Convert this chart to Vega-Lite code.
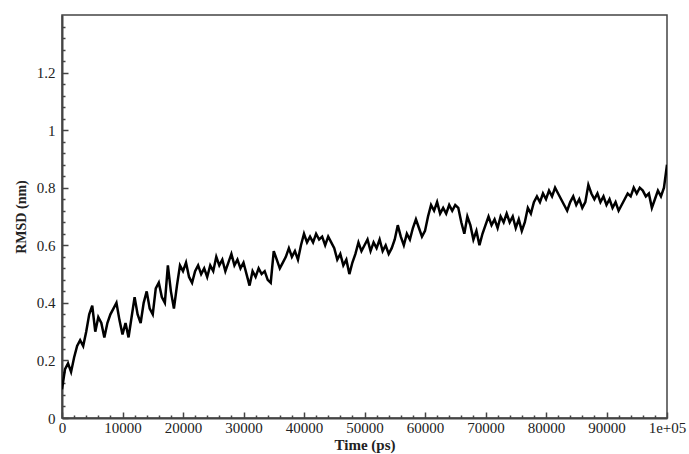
{
  "$schema": "https://vega.github.io/schema/vega-lite/v6.json",
  "width": 605,
  "height": 403,
  "autosize": {"type": "none"},
  "padding": {"left": 62, "top": 15, "right": 22, "bottom": 36},
  "background": "white",
  "config": {
    "view": {"stroke": "#444", "strokeWidth": 1.5},
    "font": "Liberation Serif",
    "axis": {
      "domainColor": "#444",
      "domainWidth": 2,
      "tickColor": "#444",
      "tickWidth": 1.5,
      "grid": false,
      "labelFont": "Liberation Serif",
      "labelFontSize": 15,
      "labelColor": "#222",
      "titleFont": "Liberation Serif",
      "titleFontWeight": "bold",
      "titleColor": "#222"
    }
  },
  "data": {"values": [
    {"t":0,"rmsd":0.10},{"t":500,"rmsd":0.17},{"t":1000,"rmsd":0.19},{"t":1500,"rmsd":0.16},{"t":2000,"rmsd":0.21},
    {"t":2500,"rmsd":0.25},{"t":3000,"rmsd":0.27},{"t":3500,"rmsd":0.25},{"t":4000,"rmsd":0.30},{"t":4500,"rmsd":0.36},
    {"t":5000,"rmsd":0.39},{"t":5500,"rmsd":0.30},{"t":6000,"rmsd":0.35},{"t":6500,"rmsd":0.33},{"t":7000,"rmsd":0.28},
    {"t":7500,"rmsd":0.33},{"t":8000,"rmsd":0.36},{"t":8500,"rmsd":0.38},{"t":9000,"rmsd":0.40},{"t":9500,"rmsd":0.34},
    {"t":10000,"rmsd":0.29},{"t":10500,"rmsd":0.33},{"t":11000,"rmsd":0.28},{"t":11500,"rmsd":0.35},{"t":12000,"rmsd":0.42},
    {"t":12500,"rmsd":0.36},{"t":13000,"rmsd":0.33},{"t":13500,"rmsd":0.40},{"t":14000,"rmsd":0.44},{"t":14500,"rmsd":0.38},
    {"t":15000,"rmsd":0.36},{"t":15500,"rmsd":0.45},{"t":16000,"rmsd":0.47},{"t":16500,"rmsd":0.42},{"t":17000,"rmsd":0.40},
    {"t":17500,"rmsd":0.53},{"t":18000,"rmsd":0.44},{"t":18500,"rmsd":0.38},{"t":19000,"rmsd":0.46},{"t":19500,"rmsd":0.53},
    {"t":20000,"rmsd":0.51},{"t":20500,"rmsd":0.54},{"t":21000,"rmsd":0.49},{"t":21500,"rmsd":0.47},{"t":22000,"rmsd":0.51},
    {"t":22500,"rmsd":0.53},{"t":23000,"rmsd":0.50},{"t":23500,"rmsd":0.52},{"t":24000,"rmsd":0.49},{"t":24500,"rmsd":0.53},
    {"t":25000,"rmsd":0.51},{"t":25500,"rmsd":0.56},{"t":26000,"rmsd":0.53},{"t":26500,"rmsd":0.55},{"t":27000,"rmsd":0.51},
    {"t":27500,"rmsd":0.54},{"t":28000,"rmsd":0.57},{"t":28500,"rmsd":0.53},{"t":29000,"rmsd":0.55},{"t":29500,"rmsd":0.52},
    {"t":30000,"rmsd":0.54},{"t":30500,"rmsd":0.50},{"t":31000,"rmsd":0.46},{"t":31500,"rmsd":0.51},{"t":32000,"rmsd":0.49},
    {"t":32500,"rmsd":0.52},{"t":33000,"rmsd":0.50},{"t":33500,"rmsd":0.51},{"t":34000,"rmsd":0.48},{"t":34500,"rmsd":0.47},
    {"t":35000,"rmsd":0.58},{"t":35500,"rmsd":0.55},{"t":36000,"rmsd":0.52},{"t":36500,"rmsd":0.54},{"t":37000,"rmsd":0.56},
    {"t":37500,"rmsd":0.59},{"t":38000,"rmsd":0.56},{"t":38500,"rmsd":0.58},{"t":39000,"rmsd":0.55},{"t":39500,"rmsd":0.60},
    {"t":40000,"rmsd":0.64},{"t":40500,"rmsd":0.61},{"t":41000,"rmsd":0.63},{"t":41500,"rmsd":0.61},{"t":42000,"rmsd":0.64},
    {"t":42500,"rmsd":0.62},{"t":43000,"rmsd":0.63},{"t":43500,"rmsd":0.60},{"t":44000,"rmsd":0.63},{"t":44500,"rmsd":0.61},
    {"t":45000,"rmsd":0.59},{"t":45500,"rmsd":0.55},{"t":46000,"rmsd":0.57},{"t":46500,"rmsd":0.53},{"t":47000,"rmsd":0.55},
    {"t":47500,"rmsd":0.50},{"t":48000,"rmsd":0.54},{"t":48500,"rmsd":0.57},{"t":49000,"rmsd":0.61},{"t":49500,"rmsd":0.58},
    {"t":50000,"rmsd":0.60},{"t":50500,"rmsd":0.62},{"t":51000,"rmsd":0.58},{"t":51500,"rmsd":0.61},{"t":52000,"rmsd":0.59},
    {"t":52500,"rmsd":0.62},{"t":53000,"rmsd":0.58},{"t":53500,"rmsd":0.60},{"t":54000,"rmsd":0.57},{"t":54500,"rmsd":0.59},
    {"t":55000,"rmsd":0.62},{"t":55500,"rmsd":0.67},{"t":56000,"rmsd":0.63},{"t":56500,"rmsd":0.60},{"t":57000,"rmsd":0.64},
    {"t":57500,"rmsd":0.62},{"t":58000,"rmsd":0.66},{"t":58500,"rmsd":0.69},{"t":59000,"rmsd":0.66},{"t":59500,"rmsd":0.63},
    {"t":60000,"rmsd":0.65},{"t":60500,"rmsd":0.70},{"t":61000,"rmsd":0.74},{"t":61500,"rmsd":0.72},{"t":62000,"rmsd":0.75},
    {"t":62500,"rmsd":0.71},{"t":63000,"rmsd":0.73},{"t":63500,"rmsd":0.71},{"t":64000,"rmsd":0.74},{"t":64500,"rmsd":0.72},
    {"t":65000,"rmsd":0.74},{"t":65500,"rmsd":0.73},{"t":66000,"rmsd":0.68},{"t":66500,"rmsd":0.64},{"t":67000,"rmsd":0.70},
    {"t":67500,"rmsd":0.67},{"t":68000,"rmsd":0.62},{"t":68500,"rmsd":0.65},{"t":69000,"rmsd":0.60},{"t":69500,"rmsd":0.64},
    {"t":70000,"rmsd":0.67},{"t":70500,"rmsd":0.70},{"t":71000,"rmsd":0.67},{"t":71500,"rmsd":0.69},{"t":72000,"rmsd":0.66},
    {"t":72500,"rmsd":0.70},{"t":73000,"rmsd":0.68},{"t":73500,"rmsd":0.71},{"t":74000,"rmsd":0.68},{"t":74500,"rmsd":0.70},
    {"t":75000,"rmsd":0.66},{"t":75500,"rmsd":0.69},{"t":76000,"rmsd":0.65},{"t":76500,"rmsd":0.68},{"t":77000,"rmsd":0.73},
    {"t":77500,"rmsd":0.71},{"t":78000,"rmsd":0.75},{"t":78500,"rmsd":0.77},{"t":79000,"rmsd":0.75},{"t":79500,"rmsd":0.78},
    {"t":80000,"rmsd":0.76},{"t":80500,"rmsd":0.79},{"t":81000,"rmsd":0.77},{"t":81500,"rmsd":0.80},{"t":82000,"rmsd":0.78},
    {"t":82500,"rmsd":0.76},{"t":83000,"rmsd":0.74},{"t":83500,"rmsd":0.72},{"t":84000,"rmsd":0.75},{"t":84500,"rmsd":0.77},
    {"t":85000,"rmsd":0.74},{"t":85500,"rmsd":0.76},{"t":86000,"rmsd":0.73},{"t":86500,"rmsd":0.75},{"t":87000,"rmsd":0.81},
    {"t":87500,"rmsd":0.78},{"t":88000,"rmsd":0.76},{"t":88500,"rmsd":0.78},{"t":89000,"rmsd":0.75},{"t":89500,"rmsd":0.77},
    {"t":90000,"rmsd":0.74},{"t":90500,"rmsd":0.76},{"t":91000,"rmsd":0.73},{"t":91500,"rmsd":0.75},{"t":92000,"rmsd":0.72},
    {"t":92500,"rmsd":0.74},{"t":93000,"rmsd":0.76},{"t":93500,"rmsd":0.78},{"t":94000,"rmsd":0.77},{"t":94500,"rmsd":0.80},
    {"t":95000,"rmsd":0.78},{"t":95500,"rmsd":0.80},{"t":96000,"rmsd":0.79},{"t":96500,"rmsd":0.77},{"t":97000,"rmsd":0.78},
    {"t":97500,"rmsd":0.73},{"t":98000,"rmsd":0.76},{"t":98500,"rmsd":0.79},{"t":99000,"rmsd":0.77},{"t":99500,"rmsd":0.80},
    {"t":100000,"rmsd":0.88}
  ]},
  "mark": {"type": "line", "color": "black", "strokeWidth": 2.5, "clip": true},
  "encoding": {
    "x": {
      "field": "t", "type": "quantitative",
      "scale": {"domain": [0, 100000], "nice": false, "zero": false},
      "axis": {
        "title": "Time (ps)",
        "titleFontSize": 15,
        "titlePadding": -1,
        "values": [0,2000,4000,6000,8000,10000,12000,14000,16000,18000,20000,22000,24000,26000,28000,30000,32000,34000,36000,38000,40000,42000,44000,46000,48000,50000,52000,54000,56000,58000,60000,62000,64000,66000,68000,70000,72000,74000,76000,78000,80000,82000,84000,86000,88000,90000,92000,94000,96000,98000,100000],
        "labelExpr": "datum.value % 10000 == 0 ? (datum.value == 100000 ? '1e+05' : format(datum.value, 'd')) : ''",
        "tickSize": {"condition": {"test": "datum.value % 10000 == 0", "value": -6}, "value": -3},
        "labelPadding": 8,
        "labelFlush": false,
        "labelOverlap": false
      }
    },
    "y": {
      "field": "rmsd", "type": "quantitative",
      "scale": {"domain": [0, 1.4], "nice": false},
      "axis": {
        "title": "RMSD (nm)",
        "titleFontSize": 14,
        "titlePadding": 8,
        "values": [0,0.04,0.08,0.12,0.16,0.2,0.24,0.28,0.32,0.36,0.4,0.44,0.48,0.52,0.56,0.6,0.64,0.68,0.72,0.76,0.8,0.84,0.88,0.92,0.96,1,1.04,1.08,1.12,1.16,1.2,1.24,1.28,1.32,1.36],
        "labelExpr": "abs(datum.value*5 - round(datum.value*5)) < 0.001 ? format(datum.value, '~g') : ''",
        "tickSize": {"condition": {"test": "abs(datum.value*5 - round(datum.value*5)) < 0.001", "value": -6}, "value": -3},
        "labelPadding": 13,
        "labelOverlap": false
      }
    }
  }
}
